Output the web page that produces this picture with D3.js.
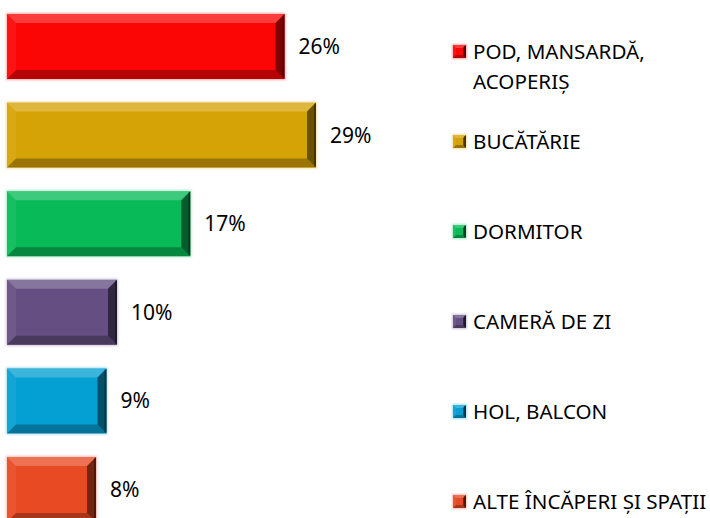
<!DOCTYPE html>
<html>
<head>
<meta charset="utf-8">
<script src="https://cdn.jsdelivr.net/npm/d3@7"></script>
<style>
  body { margin: 0; background: #fff; }
  text { font-family: "Noto Sans", "Open Sans", sans-serif; fill: #000; }
</style>
</head>
<body>
<div id="app"></div>
<script>
const WIDTH = 710, HEIGHT = 518;

// chart data
const categories = ["POD, MANSARDĂ, ACOPERIȘ", "BUCĂTĂRIE", "DORMITOR", "CAMERĂ DE ZI", "HOL, BALCON", "ALTE ÎNCĂPERI ȘI SPAȚII"];
const legendLines = [["POD, MANSARDĂ,", "ACOPERIȘ"], ["BUCĂTĂRIE"], ["DORMITOR"], ["CAMERĂ DE ZI"], ["HOL, BALCON"], ["ALTE ÎNCĂPERI ȘI SPAȚII"]];
const values = [26, 29, 17, 10, 9, 8];
const colors = ["#fc0505", "#d6a307", "#08bb58", "#654f82", "#05a0d3", "#e84b24"];

const svg = d3.select("#app").append("svg")
    .attr("width", WIDTH)
    .attr("height", HEIGHT);

// axis starts a little below zero, bars are drawn from the axis start
const x = d3.scaleLinear().domain([-0.5, 29]).range([7, 316]);
const y = d3.scaleBand().domain(categories).range([14, 522]).paddingInner(0.2664).paddingOuter(0);
const legendY = d3.scalePoint().domain(categories).range([52, 502]);
const x0 = x(x.domain()[0]);

const data = categories.map((c, i) => ({ cat: c, value: values[i], color: colors[i], lines: legendLines[i] }));

const defs = svg.append("defs");
const glow = defs.append("filter").attr("id", "glow").attr("x", "-5%").attr("y", "-10%").attr("width", "110%").attr("height", "120%");
glow.append("feGaussianBlur").attr("stdDeviation", 1.2);

// draws a bevelled box, the faces are light on top/left and dark on bottom/right
function bevel(g, bx, by, w, h, b, color) {
    const bx1 = bx + w, by1 = by + h;
    const c = d3.color(color);
    g.append("rect").attr("x", bx - 1).attr("y", by - 1).attr("width", w + 2).attr("height", h + 2)
        .attr("fill", c.copy({ opacity: 0.35 })).attr("filter", "url(#glow)");
    g.append("rect").attr("x", bx).attr("y", by).attr("width", w).attr("height", h).attr("fill", color);
    const faces = [
        { pts: [[bx, by], [bx1, by], [bx1 - b, by + b], [bx + b, by + b]], fill: "#fff", op: 0.22 },
        { pts: [[bx, by], [bx + b, by + b], [bx + b, by1 - b], [bx, by1]], fill: "#fff", op: 0.06 },
        { pts: [[bx, by1], [bx + b, by1 - b], [bx1 - b, by1 - b], [bx1, by1]], fill: "#000", op: 0.28 },
        { pts: [[bx1, by], [bx1 - b, by + b], [bx1 - b, by1 - b], [bx1, by1]], fill: "#000", op: 0.5 }
    ];
    g.selectAll("polygon.face").data(faces).join("polygon")
        .attr("class", "face")
        .attr("points", d => d.pts.map(p => p.join(",")).join(" "))
        .attr("fill", d => d.fill)
        .attr("fill-opacity", d => d.op);
    // darker line along the right edge
    g.append("rect").attr("x", bx1 - 2).attr("y", by + 1).attr("width", 2).attr("height", h - 2)
        .attr("fill", "#000").attr("fill-opacity", 0.35);
}

const bars = svg.append("g").classed("bars", true);
bars.selectAll("g.bar")
    .data(data)
    .join("g")
    .attr("class", "bar")
    .each(function (d) {
        bevel(d3.select(this), x0, y(d.cat), x(d.value) - x0, y.bandwidth(), 9, d.color);
    });

// value labels
svg.append("g").selectAll("text")
    .data(data)
    .join("text")
    .attr("x", d => x(d.value) + 14)
    .attr("y", d => y(d.cat) + y.bandwidth() / 2)
    .attr("dy", "0.36em")
    .attr("font-size", 21)
    .text(d => d.value + "%");

// legend
const legend = svg.append("g").classed("legend", true);
const items = legend.selectAll("g")
    .data(data)
    .join("g")
    .attr("transform", d => `translate(453,${legendY(d.cat)})`);

items.each(function (d) {
    bevel(d3.select(this).append("g"), 0, -7, 13, 13, 3, d.color);
});

items.append("text")
    .attr("font-size", 20.6)
    .selectAll("tspan")
    .data(d => d.lines)
    .join("tspan")
    .attr("x", 20)
    .attr("y", (d, i) => i * 30)
    .attr("dy", "0.36em")
    .text(d => d);
</script>
</body>
</html>
